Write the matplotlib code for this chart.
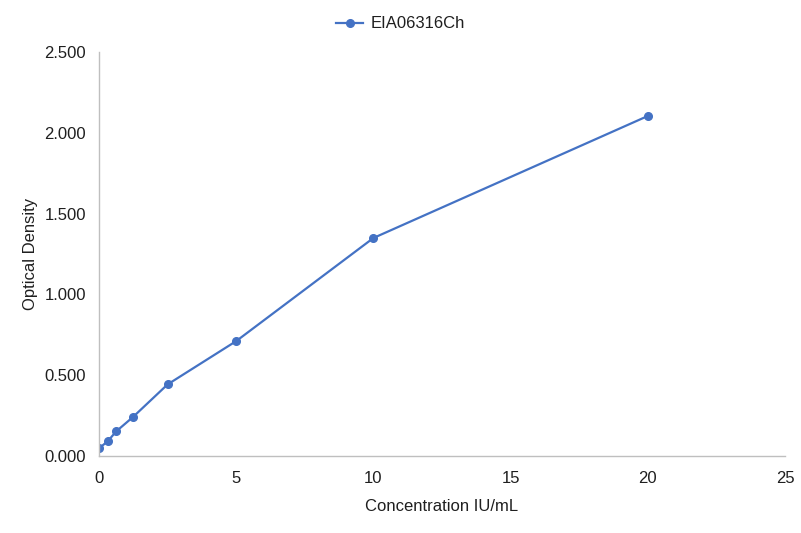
import matplotlib
matplotlib.use("Agg")
import matplotlib.pyplot as plt
from matplotlib.ticker import FuncFormatter

plt.rcParams['font.family'] = ['Liberation Sans', 'DejaVu Sans']

concentration = [0, 0.3125, 0.625, 1.25, 2.5, 5, 10, 20]
optical_density = [0.048, 0.090, 0.152, 0.243, 0.443, 0.711, 1.349, 2.104]
series_name = "EIA06316Ch"
x_ticks = [0, 5, 10, 15, 20, 25]
y_ticks = [0.0, 0.5, 1.0, 1.5, 2.0, 2.5]

text_color = '#1f1f1f'
fig = plt.figure(figsize=(8.01, 5.33), dpi=100)
ax = fig.add_axes([99/801, 1-456/533, (785-99)/801, (456-52)/533])

color = '#4472C4'
ax.plot(concentration, optical_density, color=color, linewidth=1.6,
        marker='o', markersize=5.5, label=series_name)

ax.set_xlim(0, 25)
ax.set_ylim(0, 2.5)
ax.set_xticks(x_ticks)
ax.set_yticks(y_ticks)
ax.yaxis.set_major_formatter(FuncFormatter(lambda v, p: f"{v:.3f}"))
ax.tick_params(axis='both', length=0, labelsize=12, labelcolor=text_color)
ax.tick_params(axis='y', pad=9.5)
ax.tick_params(axis='x', pad=11)

for s in ['top', 'right']:
    ax.spines[s].set_visible(False)
for s in ['left', 'bottom']:
    ax.spines[s].set_color('#BFBFBF')
    ax.spines[s].set_linewidth(1)

ax.set_xlabel("Concentration IU/mL", fontsize=12, color=text_color, labelpad=9)
ax.set_ylabel("Optical Density", fontsize=12, color=text_color, labelpad=4.5)

leg = fig.legend(loc='center', bbox_to_anchor=(0.5, 1 - 24/533), frameon=False,
                 fontsize=12, handlelength=1.65, handletextpad=0.45, borderaxespad=0)
for t in leg.get_texts():
    t.set_color(text_color)

fig.savefig("out.png", dpi=100)
